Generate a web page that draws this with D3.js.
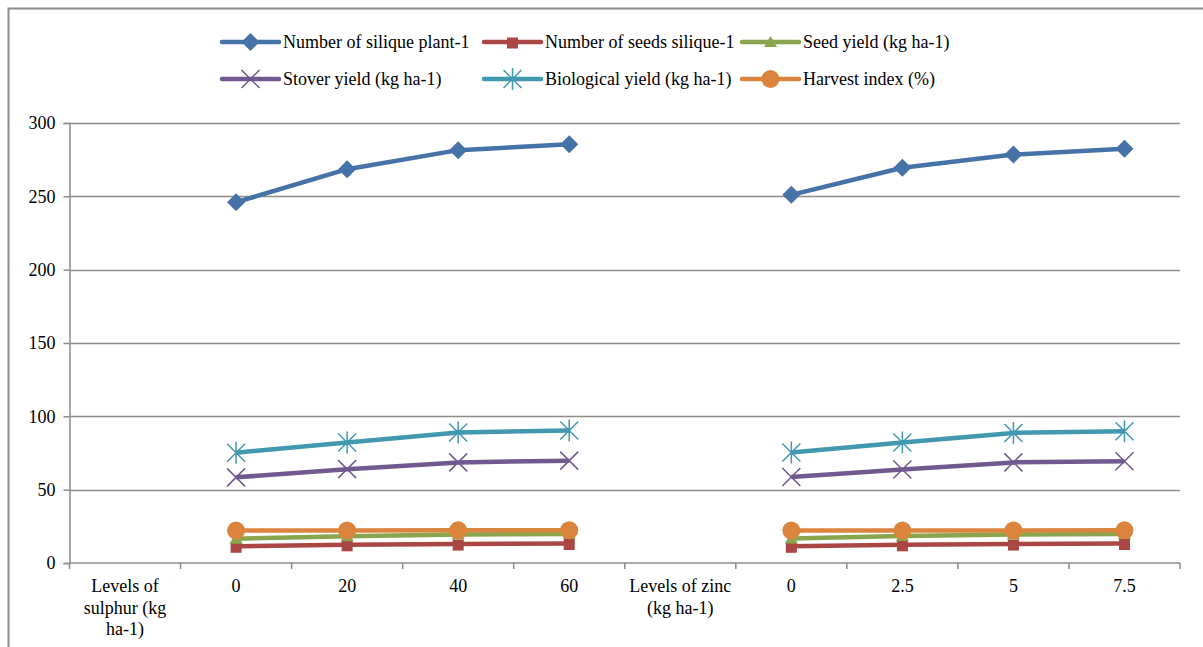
<!DOCTYPE html>
<html>
<head>
<meta charset="utf-8">
<script src="https://cdn.jsdelivr.net/npm/d3@7"></script>
<style>
	body { margin: 0; background: #fff; }
</style>
</head>
<body>
<svg id="chart" width="1203" height="647"></svg>
<script>
/////////////////////////////////////////////////////////////////////////
// data

var categories = [
	['Levels of', 'sulphur (kg', 'ha-1)'],
	['0'], ['20'], ['40'], ['60'],
	['Levels of zinc', '(kg ha-1)'],
	['0'], ['2.5'], ['5'], ['7.5']
]

var seriesNames = [
	'Number of silique plant-1',
	'Number of seeds silique-1',
	'Seed yield (kg ha-1)',
	'Stover yield (kg ha-1)',
	'Biological yield (kg ha-1)',
	'Harvest index (%)'
]

var siliquePlant = [null, 246.0, 268.5, 281.5, 285.5, null, 251.0, 269.5, 278.5, 282.5]
var seedsSilique = [null, 11.4, 12.4, 12.9, 13.3, null, 11.4, 12.4, 12.9, 13.3]
var seedYield = [null, 16.6, 18.3, 19.4, 19.8, null, 16.7, 18.4, 19.4, 19.7]
var stoverYield = [null, 58.4, 64.0, 68.6, 69.8, null, 58.7, 63.7, 68.6, 69.4]
var bioYield = [null, 75.2, 82.2, 89.0, 90.4, null, 75.4, 82.2, 88.7, 89.8]
var harvestIndex = [null, 22.1, 22.2, 22.3, 22.4, null, 22.1, 22.1, 22.2, 22.3]

var yTicks = [0, 50, 100, 150, 200, 250, 300]

var colors = ['#4572A7', '#AA4643', '#89A54E', '#71588F', '#4198AF', '#DB843D']
var markers = ['diamond', 'square', 'triangle', 'cross', 'star', 'circle']

var allSeries = [siliquePlant, seedsSilique, seedYield, stoverYield, bioYield, harvestIndex]

var FONT = '"Liberation Serif", Tinos, "Times New Roman", "DejaVu Serif", serif'

/////////////////////////////////////////////////////////////////////////
// layout

var svg = d3.select('#chart')
var margin = {top: 123, right: 23, bottom: 84, left: 69.5}
var width = 1180 - margin.left
var height = 563 - margin.top

// outer frame (top and left edges only visible)
svg.append('path')
	.attr('d', 'M8.5,647 V8.5 H1203')
	.attr('fill', 'none')
	.attr('stroke', '#8c8c8c')
	.attr('stroke-width', 2)

var g = svg.append('g').attr('transform', 'translate(' + margin.left + ',' + margin.top + ')')

var x = d3.scaleBand().domain(d3.range(categories.length)).range([0, width])
var y = d3.scaleLinear().domain([0, 300]).range([height, 0])

// gridlines
g.append('g')
	.selectAll('line')
	.data(yTicks.slice(1))
	.enter().append('line')
	.attr('x1', 0).attr('x2', width)
	.attr('y1', d => Math.round(y(d)) + 0.5).attr('y2', d => Math.round(y(d)) + 0.5)
	.attr('stroke', '#8c8c8c')
	.attr('stroke-width', 1.5)

// y axis
var yAxis = g.append('g').call(d3.axisLeft(y).tickValues(yTicks).tickSize(6).tickPadding(8))
yAxis.attr('font-family', FONT).attr('font-size', 18)
yAxis.select('.domain').attr('stroke', '#8c8c8c').attr('stroke-width', 1.5)
yAxis.selectAll('.tick line').attr('stroke', '#8c8c8c').attr('stroke-width', 1.5)
yAxis.selectAll('text').attr('fill', '#000')

// x axis
var xAxisG = g.append('g')
	.attr('transform', 'translate(0,' + height + ')')
	.attr('font-family', FONT)
	.attr('font-size', 18)
xAxisG.append('line')
	.attr('x1', 0).attr('x2', width)
	.attr('stroke', '#8c8c8c').attr('stroke-width', 1.5)
xAxisG.selectAll('.xtick')
	.data(d3.range(categories.length + 1))
	.enter().append('line')
	.attr('x1', d => d * x.bandwidth()).attr('x2', d => d * x.bandwidth())
	.attr('y1', 0).attr('y2', 6)
	.attr('stroke', '#8c8c8c').attr('stroke-width', 1.5)

var xLabels = xAxisG.selectAll('.xlabel')
	.data(categories)
	.enter().append('text')
	.attr('class', 'xlabel')
	.attr('text-anchor', 'middle')
	.attr('transform', (d, i) => 'translate(' + (x(i) + x.bandwidth() / 2) + ',29)')

xLabels.selectAll('tspan')
	.data(d => d)
	.enter().append('tspan')
	.attr('x', 0)
	.attr('dy', (d, i) => i === 0 ? 0 : 21.5)
	.text(d => d)

/////////////////////////////////////////////////////////////////////////
// markers

function drawMarker(sel, type, color) {
	if (type === 'diamond') {
		sel.append('path').attr('d', 'M0,-9 L9,0 L0,9 L-9,0 Z').attr('fill', color)
	} else if (type === 'square') {
		sel.append('rect').attr('x', -5.5).attr('y', -4.5).attr('width', 11).attr('height', 11).attr('fill', color)
	} else if (type === 'triangle') {
		sel.append('path').attr('d', 'M0,-6 L6.5,5 L-6.5,5 Z').attr('fill', color)
	} else if (type === 'cross') {
		sel.append('path').attr('d', 'M-9,-9 L9,9 M-9,9 L9,-9').attr('stroke', color).attr('stroke-width', 1.5)
	} else if (type === 'star') {
		sel.append('path').attr('d', 'M-9,-9 L9,9 M-9,9 L9,-9 M0,-11 V11').attr('stroke', color).attr('stroke-width', 1.5)
	} else if (type === 'circle') {
		sel.append('circle').attr('r', 9).attr('fill', color)
	}
}

/////////////////////////////////////////////////////////////////////////
// series

var line = d3.line()
	.defined(d => d.v !== null)
	.x(d => x(d.i) + x.bandwidth() / 2)
	.y(d => y(d.v))

allSeries.forEach(function(values, s) {
	var pts = values.map((v, i) => ({i: i, v: v}))
	g.append('path')
		.datum(pts)
		.attr('fill', 'none')
		.attr('stroke', colors[s])
		.attr('stroke-width', 4.5)
		.attr('stroke-linejoin', 'round')
		.attr('d', line)

	g.selectAll('.m' + s)
		.data(pts.filter(d => d.v !== null))
		.enter().append('g')
		.attr('class', 'm' + s)
		.attr('transform', d => 'translate(' + (x(d.i) + x.bandwidth() / 2) + ',' + y(d.v) + ')')
		.each(function() { drawMarker(d3.select(this), markers[s], colors[s]) })
})

/////////////////////////////////////////////////////////////////////////
// legend

var legendX = [222, 484, 742]
var legendY = [42, 79]

var legend = svg.append('g')
	.attr('font-family', FONT)
	.attr('font-size', 18)
	.selectAll('g')
	.data(seriesNames)
	.enter().append('g')
	.attr('transform', (d, i) => 'translate(' + legendX[i % 3] + ',' + legendY[Math.floor(i / 3)] + ')')

legend.append('line')
	.attr('x1', 0).attr('x2', 57)
	.attr('stroke', (d, i) => colors[i])
	.attr('stroke-width', 4.5)
	.attr('stroke-linecap', 'round')

legend.append('g')
	.attr('transform', 'translate(28.5,0)')
	.each(function(d, i) { drawMarker(d3.select(this), markers[i], colors[i]) })

legend.append('text')
	.attr('x', 61)
	.attr('dy', '0.35em')
	.text(d => d)
</script>
</body>
</html>
